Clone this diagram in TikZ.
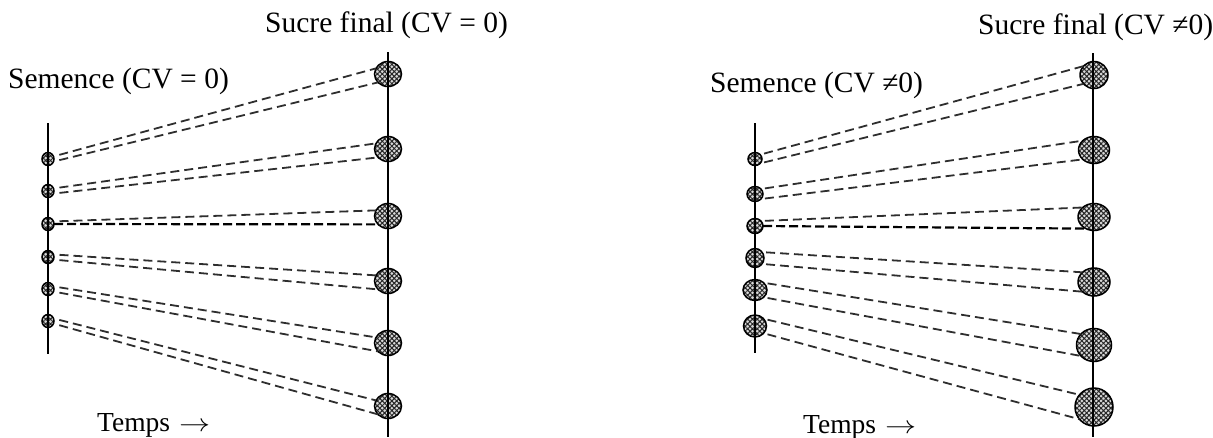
\documentclass[tikz,border=0pt]{standalone}
\usepackage{fontspec}
\setmainfont{Liberation Serif}
\usetikzlibrary{shapes.geometric,patterns.meta}
\newcommand{\tarrow}{\hspace{9pt}\scalebox{1.25}[1]{$\rightarrow$}}
\begin{document}
\begin{tikzpicture}[x=1pt,y=-1pt,
  bead/.style={ellipse, draw, line width=1.5pt, inner sep=0pt, outer sep=0pt,
    preaction={fill=gray!30},
    pattern={Hatch[angle=45,distance=3.4pt,line width=1pt]}, pattern color=black!85},
  axis/.style={line width=1.9pt, black},
  link/.style={line width=1.8pt, black!82, dash pattern=on 9pt off 5pt},
  flat/.style={line width=2.2pt, black, dash pattern=on 9pt off 4pt},
  lbl/.style={font=\fontsize{29.5}{33}\selectfont, inner sep=0pt, anchor=base west},
  tlbl/.style={font=\fontsize{27.5}{31}\selectfont, inner sep=0pt, anchor=base west}]
\useasboundingbox (0,0) rectangle (1213,437);
% ---------- left panel ----------
\node[lbl] (tL1) at (265,32) {Sucre final (CV = 0)};
\node[lbl] (tL2) at (8,88) {Semence (CV = 0)};
\node[tlbl] (tL3) at (97,431) {Temps\tarrow};
\foreach \n/\y in {1/159,2/191,3/224,4/257,5/289,6/321}
  \node[bead, minimum width=12pt, minimum height=13pt] (ls\n) at (48,\y) {};
\foreach \n/\y in {1/74,2/149,3/216,4/281,5/343,6/406}
  \node[bead, minimum width=27pt, minimum height=25pt] (lf\n) at (388,\y) {};
\coordinate (lst) at (48,123); \coordinate (lsb) at (48,354);
\coordinate (lft) at (388,52); \coordinate (lfb) at (388,437);
\draw[axis] (lst) -- (lsb);
\draw[axis] (lft) -- (lfb);
\foreach \n in {1,2,4,5,6}{
  \draw[link, shorten <=6pt] (ls\n.25) -- (lf\n.155);
  \draw[link, shorten <=6pt] (ls\n.-25) -- (lf\n.220);
}
\draw[link, shorten <=6pt] (ls3.25) -- (lf3.155);
\draw[flat] (ls3.east) -- (lf3.220);
% ---------- right panel ----------
\node[lbl] (tR1) at (978,34) {Sucre final (CV ≠0)};
\node[lbl] (tR2) at (710,92) {Semence (CV ≠0)};
\node[tlbl] (tR3) at (803,433) {Temps\tarrow};
\node[bead, minimum width=14pt, minimum height=13pt] (rs1) at (755,159) {};
\node[bead, minimum width=16pt, minimum height=15pt] (rs2) at (755,194) {};
\node[bead, minimum width=16pt, minimum height=15pt] (rs3) at (755,226) {};
\node[bead, minimum width=18pt, minimum height=19pt] (rs4) at (755,258) {};
\node[bead, minimum width=24pt, minimum height=21pt] (rs5) at (755,290) {};
\node[bead, minimum width=23pt, minimum height=22pt] (rs6) at (755,326) {};
\node[bead, minimum width=28pt, minimum height=27pt] (rf1) at (1094,75) {};
\node[bead, minimum width=31pt, minimum height=27pt] (rf2) at (1094,150) {};
\node[bead, minimum width=32pt, minimum height=27pt] (rf3) at (1094,217) {};
\node[bead, minimum width=32pt, minimum height=28pt] (rf4) at (1094,282) {};
\node[bead, minimum width=35pt, minimum height=33pt] (rf5) at (1094,345) {};
\node[bead, minimum width=38pt, minimum height=38pt] (rf6) at (1094,407) {};
\coordinate (rst) at (755,123); \coordinate (rsb) at (755,353);
\coordinate (rft) at (1093,53); \coordinate (rfb) at (1093,437);
\draw[axis] (rst) -- (rsb);
\draw[axis] (rft) -- (rfb);
\foreach \n in {1,2,4,5,6}{
  \draw[link, shorten <=4pt] (rs\n.40) -- (rf\n.140);
  \draw[link, shorten <=4pt] (rs\n.-40) -- (rf\n.220);
}
\draw[link, shorten <=4pt] (rs3.40) -- (rf3.140);
\draw[flat] (rs3.east) -- (rf3.235);
\end{tikzpicture}
\end{document}
